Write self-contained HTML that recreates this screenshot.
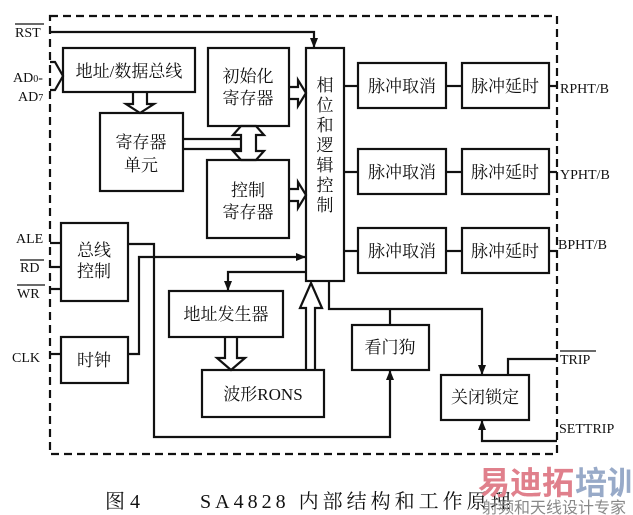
<!DOCTYPE html>
<html><head><meta charset="utf-8"><style>
html,body{margin:0;padding:0;background:#fff;}
svg{display:block;}
text{font-family:"Liberation Serif","Noto Serif CJK SC",serif;fill:#111;}
.c{font-size:17px;}
.l{font-size:14px;}
</style></head><body>
<svg width="633" height="515" viewBox="0 0 633 515" xmlns="http://www.w3.org/2000/svg">
<defs>
<marker id="a" markerWidth="10" markerHeight="10" refX="9" refY="5" orient="auto" markerUnits="userSpaceOnUse"><path d="M0,1 L10,5 L0,9 Z" fill="#111"/></marker>
</defs>
<g fill="none" stroke="#111" stroke-width="2.2">
<rect x="50" y="16" width="507" height="438" stroke-dasharray="8,5"/>
<rect x="63" y="48" width="132" height="44"/>
<rect x="100" y="113" width="83" height="78"/>
<rect x="208" y="48" width="81" height="78"/>
<rect x="207" y="160" width="82" height="78"/>
<rect x="306" y="48" width="38" height="233"/>
<rect x="358" y="63" width="88" height="45"/>
<rect x="462" y="63" width="87" height="45"/>
<rect x="358" y="149" width="88" height="45"/>
<rect x="462" y="149" width="87" height="45"/>
<rect x="358" y="228" width="88" height="45"/>
<rect x="462" y="228" width="87" height="45"/>
<rect x="61" y="223" width="67" height="78"/>
<rect x="61" y="337" width="67" height="46"/>
<rect x="169" y="291" width="114" height="46"/>
<rect x="202" y="370" width="122" height="47"/>
<rect x="352" y="325" width="77" height="45"/>
<rect x="441" y="375" width="88" height="45"/>
<polyline points="50,32 314,32 314,47" marker-end="url(#a)"/>
<line x1="344" y1="86" x2="358" y2="86"/><line x1="446" y1="86" x2="462" y2="86"/><line x1="549" y1="86" x2="557" y2="86"/>
<line x1="344" y1="172" x2="358" y2="172"/><line x1="446" y1="172" x2="462" y2="172"/><line x1="549" y1="172" x2="557" y2="172"/>
<line x1="344" y1="251" x2="358" y2="251"/><line x1="446" y1="251" x2="462" y2="251"/><line x1="549" y1="251" x2="557" y2="251"/>
<line x1="50" y1="243" x2="61" y2="243"/><line x1="50" y1="267" x2="61" y2="267"/><line x1="50" y1="289" x2="61" y2="289"/>
<line x1="50" y1="354" x2="61" y2="354"/>
<polyline points="128,244 154,244 154,437 390,437 390,371" marker-end="url(#a)"/>
<polyline points="128,354 139,354 139,257 305,257" marker-end="url(#a)"/>
<polyline points="306,272 228,272 228,290" marker-end="url(#a)"/>
<polyline points="329,281 329,309 482,309 482,374" marker-end="url(#a)"/>
<line x1="390" y1="309" x2="390" y2="325"/>
<polyline points="508,375 508,359 557,359"/>
<polyline points="557,441 482,441 482,421" marker-end="url(#a)"/>
<path d="M50,62 L55,62 L63,76 L55,90 L50,90" />
<path d="M133,92 L133,104 L126,104 L140,113 L154,104 L147,104 L147,92" />
<path d="M289,87 L298,87 L298,80 L306,93 L298,106 L298,99 L289,99" />
<path d="M289,189 L298,189 L298,182 L306,195 L298,208 L298,201 L289,201" />
<path d="M183,139 L240,139 M183,149 L240,149" />
<path d="M241,126 L233,135 L241,135 L241,151 L233,151 L241,160 L256,160 L264,151 L256,151 L256,135 L264,135 L256,126 Z"/>
<path d="M225,337 L225,358 L217,358 L231,370 L245,358 L237,358 L237,337" />
<path d="M306,370 L306,308 L300,308 L311,283 L322,308 L315,308 L315,370" />
</g>
<text class="c" x="129" y="77" text-anchor="middle">地址/数据总线</text>
<text class="c" x="141" y="148" text-anchor="middle">寄存器</text>
<text class="c" x="141" y="171" text-anchor="middle">单元</text>
<text class="c" x="248" y="82" text-anchor="middle">初始化</text>
<text class="c" x="248" y="104" text-anchor="middle">寄存器</text>
<text class="c" x="248" y="196" text-anchor="middle">控制</text>
<text class="c" x="248" y="218" text-anchor="middle">寄存器</text>
<text class="c" x="325" y="91" text-anchor="middle">相</text>
<text class="c" x="325" y="111" text-anchor="middle">位</text>
<text class="c" x="325" y="131" text-anchor="middle">和</text>
<text class="c" x="325" y="151" text-anchor="middle">逻</text>
<text class="c" x="325" y="171" text-anchor="middle">辑</text>
<text class="c" x="325" y="191" text-anchor="middle">控</text>
<text class="c" x="325" y="211" text-anchor="middle">制</text>
<text class="c" x="402" y="92" text-anchor="middle">脉冲取消</text>
<text class="c" x="505" y="92" text-anchor="middle">脉冲延时</text>
<text class="c" x="402" y="178" text-anchor="middle">脉冲取消</text>
<text class="c" x="505" y="178" text-anchor="middle">脉冲延时</text>
<text class="c" x="402" y="257" text-anchor="middle">脉冲取消</text>
<text class="c" x="505" y="257" text-anchor="middle">脉冲延时</text>
<text class="c" x="94" y="256" text-anchor="middle">总线</text>
<text class="c" x="94" y="277" text-anchor="middle">控制</text>
<text class="c" x="94" y="366" text-anchor="middle">时钟</text>
<text class="c" x="226" y="320" text-anchor="middle">地址发生器</text>
<text class="c" x="263" y="400" text-anchor="middle">波形RONS</text>
<text class="c" x="390" y="353" text-anchor="middle">看门狗</text>
<text class="c" x="485" y="403" text-anchor="middle">关闭锁定</text>
<text class="l" x="15" y="37">RST</text><line x1="15" y1="24" x2="44" y2="24" stroke="#111" stroke-width="1.2"/>
<text class="l" x="13" y="82">AD<tspan font-size="10">0</tspan>-</text>
<text class="l" x="18" y="101">AD<tspan font-size="10">7</tspan></text>
<text class="l" x="16" y="243">ALE</text>
<text class="l" x="20" y="272">RD</text><line x1="20" y1="260" x2="44" y2="260" stroke="#111" stroke-width="1.2"/>
<text class="l" x="17" y="298">WR</text><line x1="17" y1="285" x2="45" y2="285" stroke="#111" stroke-width="1.2"/>
<text class="l" x="12" y="362">CLK</text>
<text class="l" x="560" y="93">RPHT/B</text>
<text class="l" x="560" y="179">YPHT/B</text>
<text class="l" x="558" y="249">BPHT/B</text>
<text class="l" x="560" y="364">TRIP</text><line x1="560" y1="351" x2="596" y2="351" stroke="#111" stroke-width="1.2"/>
<text class="l" x="559" y="433">SETTRIP</text>
<text x="105" y="508" font-size="20">图 4</text>
<text x="200" y="508" font-size="20" letter-spacing="4">SA4828 内部结构和工作原理</text>
<text x="478" y="494" font-size="32" font-weight="bold" style="fill:#e0808c;font-family:'Noto Sans CJK SC',sans-serif">易迪拓</text>
<text x="575" y="494" font-size="32" font-weight="bold" style="fill:#98aac8;font-family:'Noto Sans CJK SC',sans-serif">培训</text>
<text x="482" y="513" font-size="16" style="fill:#888;font-family:'Noto Sans CJK SC',sans-serif">射频和天线设计专家</text>
</svg>
</body></html>
